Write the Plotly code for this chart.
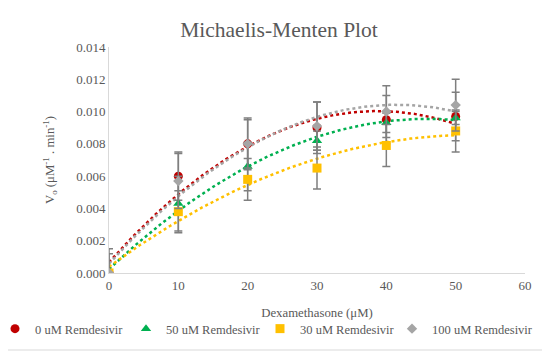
import numpy as np
import plotly.graph_objects as go

dex = [0, 10, 20, 30, 40, 50]
series_names = ["0 uM Remdesivir", "50 uM Remdesivir", "30 uM Remdesivir", "100 uM Remdesivir"]
v_0uM = [0.0, 0.0060, 0.0080, 0.0090, 0.0095, 0.0097]
v_50uM = [0.0, 0.0043, 0.0066, 0.0082, 0.0093, 0.0096]
v_30uM = [0.0, 0.0038, 0.0058, 0.0065, 0.0079, 0.0088]
v_100uM = [0.0, 0.0057, 0.0080, 0.0091, 0.0100, 0.0104]
err_0uM = [0.0015, 0.0015, 0.0016, 0.0016, 0.0015, 0.0015]
err_50uM = [0.0, 0.0017, 0.0015, 0.0006, 0.0006, 0.0004]
err_30uM = [0.0, 0.0013, 0.0013, 0.0013, 0.0013, 0.0013]
err_100uM = [0.0012, 0.0017, 0.0015, 0.0015, 0.0016, 0.0016]

colors = ["#c00000", "#00b050", "#ffc000", "#a5a5a5"]
symbols = ["circle", "triangle-up", "square", "diamond"]
sizes = [9, 9, 9, 8]
values = [v_0uM, v_50uM, v_30uM, v_100uM]
errors = [err_0uM, err_50uM, err_30uM, err_100uM]

FONT = "'Liberation Serif', 'DejaVu Serif', serif"
GREY = "#595959"

# the page body has an 8px margin; the figure is sized so the window matches 550x354
OFF = 8
W, H = 550 - OFF, 354 - OFF
L, R, T, B = 109, 525, 47, 273  # plot area in window pixels
PW, PH = R - L, B - T

legend_ids = ["legend", "legend2", "legend3", "legend4"]
legend_marker_px = [18, 149, 283, 415]  # legend marker positions (window px)

fig = go.Figure()

# trendlines (2nd-order polynomial fit of each series)
xs = np.linspace(0, 50, 200)
for name, vals, col in zip(series_names, values, colors):
    coef = np.polyfit(dex, vals, 2)
    fig.add_trace(go.Scatter(x=xs, y=np.polyval(coef, xs), mode="lines",
                             line=dict(color=col, width=2.5, dash="dot"),
                             showlegend=False, hoverinfo="skip"))

for name, vals, errs, col, sym, sz, lid in zip(series_names, values, errors, colors, symbols, sizes, legend_ids):
    fig.add_trace(go.Scatter(
        x=dex, y=vals, mode="markers", name=name, legend=lid,
        marker=dict(color=col, symbol=sym, size=sz),
        error_y=dict(type="data", array=errs, visible=True, color="#7f7f7f",
                     thickness=1.5, width=4),
    ))

legend_layout = {}
for lid, mx in zip(legend_ids, legend_marker_px):
    legend_layout[lid] = dict(
        orientation="h", x=(mx - 4 - 19 - L) / PW, xanchor="left",
        y=-(314 - B) / PH, yanchor="top", bgcolor="rgba(0,0,0,0)",
        font=dict(family=FONT, size=12.5, color=GREY), itemwidth=30)

fig.update_layout(
    width=W, height=H,
    margin=dict(l=L - OFF, r=550 - R, t=T - OFF, b=354 - B, autoexpand=False),
    paper_bgcolor="white", plot_bgcolor="white",
    font=dict(family=FONT, color=GREY, size=12),
    title=dict(text="Michaelis-Menten Plot", x=0.5, xanchor="center",
               y=1 - (29 - OFF) / H, yanchor="middle", font=dict(family=FONT, size=21.5, color=GREY)),
    xaxis=dict(range=[0, 60], dtick=10, tick0=0, showgrid=False, zeroline=False,
               showline=True, linecolor="#d9d9d9", linewidth=1, ticks="",
               title=dict(text="Dexamethasone (μM)", standoff=16, font=dict(family=FONT, size=12.8, color=GREY)),
               tickfont=dict(family=FONT, size=13, color=GREY)),
    yaxis=dict(range=[0, 0.014], dtick=0.002, tickformat=".3f", showgrid=False, zeroline=False,
               showline=True, linecolor="#d9d9d9", linewidth=1, ticks="",
               title=dict(text="V<sub>o</sub> (μM<sup>-1</sup> . min<sup>-1</sup>)", standoff=18,
                          font=dict(family=FONT, size=12.8, color=GREY)),
               tickfont=dict(family=FONT, size=13, color=GREY)),
    shapes=[dict(type="rect", xref="paper", yref="paper",
                 x0=(4 - L) / PW, x1=(546 - L) / PW,
                 y0=-(350 - B) / PH, y1=(B - 4) / PH,
                 line=dict(color="#d9d9d9", width=1), layer="below")],
    **legend_layout,
)

fig.write_html("out.html")
